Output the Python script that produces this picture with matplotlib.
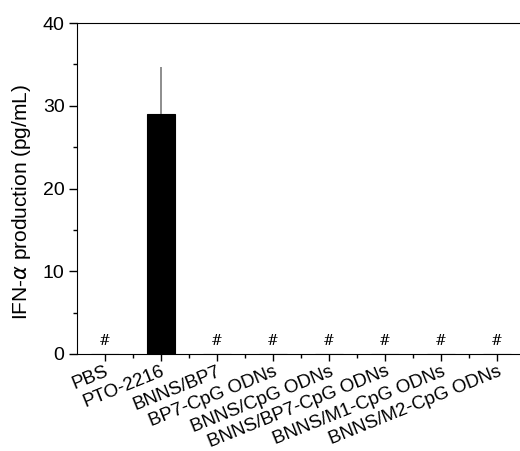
import matplotlib.pyplot as plt
import numpy as np

plt.rcParams['font.family'] = ['Liberation Sans', 'DejaVu Sans']

groups = ['PBS', 'PTO-2216', 'BNNS/BP7', 'BP7-CpG ODNs', 'BNNS/CpG ODNs',
          'BNNS/BP7-CpG ODNs', 'BNNS/M1-CpG ODNs', 'BNNS/M2-CpG ODNs']
ifn = [0, 29.0, 0, 0, 0, 0, 0, 0]
err = [0, 5.7, 0, 0, 0, 0, 0, 0]
marks = ['#', '', '#', '#', '#', '#', '#', '#']

fig = plt.figure(figsize=(5.2, 4.51), dpi=100)
ax = fig.add_axes([77/520, 1 - 354/451, 448/520, 331/451])

x = np.arange(1, len(groups) + 1)
ax.bar(x, ifn, width=0.5, color='black', edgecolor='black', linewidth=0.8)
ax.errorbar(x[1], ifn[1], yerr=[[0], [err[1]]], fmt='none', ecolor='#7a7a7a',
            elinewidth=1.2, capsize=0)
for xi, m in zip(x, marks):
    if m:
        ax.text(xi, 0.7, m, ha='center', va='bottom', fontsize=10,
                family='DejaVu Serif')

ax.set_xlim(0.5, 8.5)
ax.set_ylim(0, 40)
ax.set_yticks([0, 10, 20, 30, 40])
ax.set_yticks([5, 15, 25, 35], minor=True)
ax.set_xticks(x)
ax.set_xticks(x[:-1] + 0.5, minor=True)
ax.set_xticklabels(groups, rotation=22, ha='right', rotation_mode='anchor',
                   fontsize=13.5)
ax.tick_params(axis='y', labelsize=14, length=6, width=1, pad=3)
ax.tick_params(axis='x', length=5, width=1, pad=1.5)
ax.tick_params(which='minor', length=3, width=1)
ax.spines['right'].set_visible(False)
ax.set_ylabel(r'IFN-$\alpha$ production (pg/mL)', fontsize=15)
ax.yaxis.set_label_coords(-0.098, 0.459)

fig.savefig('out.png', dpi=100)
